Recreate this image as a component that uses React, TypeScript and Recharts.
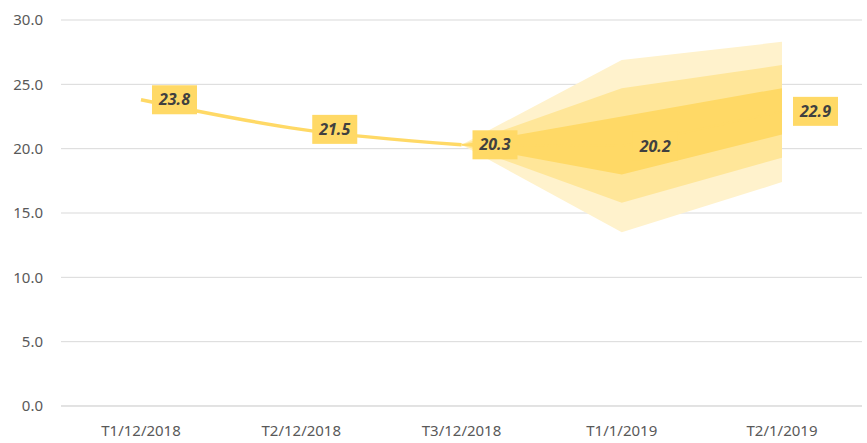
import React from 'react';
import { ComposedChart, Area, Line, XAxis, YAxis, CartesianGrid, LabelList } from 'recharts';

const periods = ['T1/12/2018', 'T2/12/2018', 'T3/12/2018', 'T1/1/2019', 'T2/1/2019'];
const actual = [23.8, 21.5, 20.3, null, null];
const forecast = [null, null, 20.3, 20.2, 22.9];
const innerLow = [null, null, 20.3, 18.0, 21.1];
const innerHigh = [null, null, 20.3, 22.5, 24.7];
const midLow = [null, null, 20.3, 15.8, 19.3];
const midHigh = [null, null, 20.3, 24.7, 26.5];
const outerLow = [null, null, 20.3, 13.5, 17.4];
const outerHigh = [null, null, 20.3, 26.9, 28.3];
const yTicks = [0, 5, 10, 15, 20, 25, 30];

const pair = (lo: (number | null)[], hi: (number | null)[], i: number) =>
    lo[i] == null || hi[i] == null ? null : [lo[i], hi[i]];

const data = periods.map((p, i) => ({
    period: p,
    actual: actual[i],
    forecast: forecast[i],
    inner: pair(innerLow, innerHigh, i),
    mid: pair(midLow, midHigh, i),
    outer: pair(outerLow, outerHigh, i),
}));

const GOLD = '#FFD966';
const FONT = '"Noto Sans", sans-serif';

const BoxLabel = (skip: number[]) => (props: any) => {
    const { x, y, value, index } = props;
    if (value == null || skip.includes(index)) return null;
    return (
        <g>
            <rect x={x + 11} y={y - 14.5} width={45} height={29} fill={GOLD} />
            <text
                x={x + 33.5}
                y={y}
                dy="0.35em"
                textAnchor="middle"
                fontFamily={FONT}
                fontSize={16}
                fontWeight="bold"
                fontStyle="italic"
                fill="#404040"
            >
                {Number(value).toFixed(1)}
            </text>
        </g>
    );
};

const App: React.FC = () => {
    return (
        <div style={{ position: 'absolute', left: 0, top: 0, background: '#fff', fontFamily: FONT }}>
            <ComposedChart width={867} height={443} data={data} margin={{ top: 20, right: 5, bottom: 7, left: 0 }}>
                <CartesianGrid vertical={false} stroke="#D9D9D9" />
                <XAxis
                    dataKey="period"
                    height={30}
                    padding={{ left: 80, right: 80 }}
                    axisLine={{ stroke: '#D9D9D9' }}
                    tickLine={false}
                    tickSize={0}
                    tickMargin={19}
                    tick={{ fontSize: 15, fill: '#595959', fontFamily: FONT }}
                />
                <YAxis
                    width={61}
                    domain={[0, 30]}
                    ticks={yTicks}
                    axisLine={false}
                    tickLine={false}
                    tickSize={0}
                    tickMargin={18}
                    tickFormatter={(v: number) => v.toFixed(1)}
                    tick={{ fontSize: 15, fill: '#595959', fontFamily: FONT }}
                />
                <Area dataKey="outer" type="linear" stroke="none" fill="#FFF2CC" fillOpacity={1} isAnimationActive={false} />
                <Area dataKey="mid" type="linear" stroke="none" fill="#FFE699" fillOpacity={1} isAnimationActive={false} />
                <Area dataKey="inner" type="linear" stroke="none" fill={GOLD} fillOpacity={1} isAnimationActive={false} />
                <Line
                    dataKey="forecast"
                    type="linear"
                    stroke={GOLD}
                    strokeWidth={2}
                    dot={false}
                    activeDot={false}
                    isAnimationActive={false}
                >
                    <LabelList dataKey="forecast" content={BoxLabel([2])} />
                </Line>
                <Line
                    dataKey="actual"
                    type="monotone"
                    stroke={GOLD}
                    strokeWidth={3.5}
                    dot={false}
                    activeDot={false}
                    isAnimationActive={false}
                >
                    <LabelList dataKey="actual" content={BoxLabel([])} />
                </Line>
            </ComposedChart>
        </div>
    );
};

export default App;
